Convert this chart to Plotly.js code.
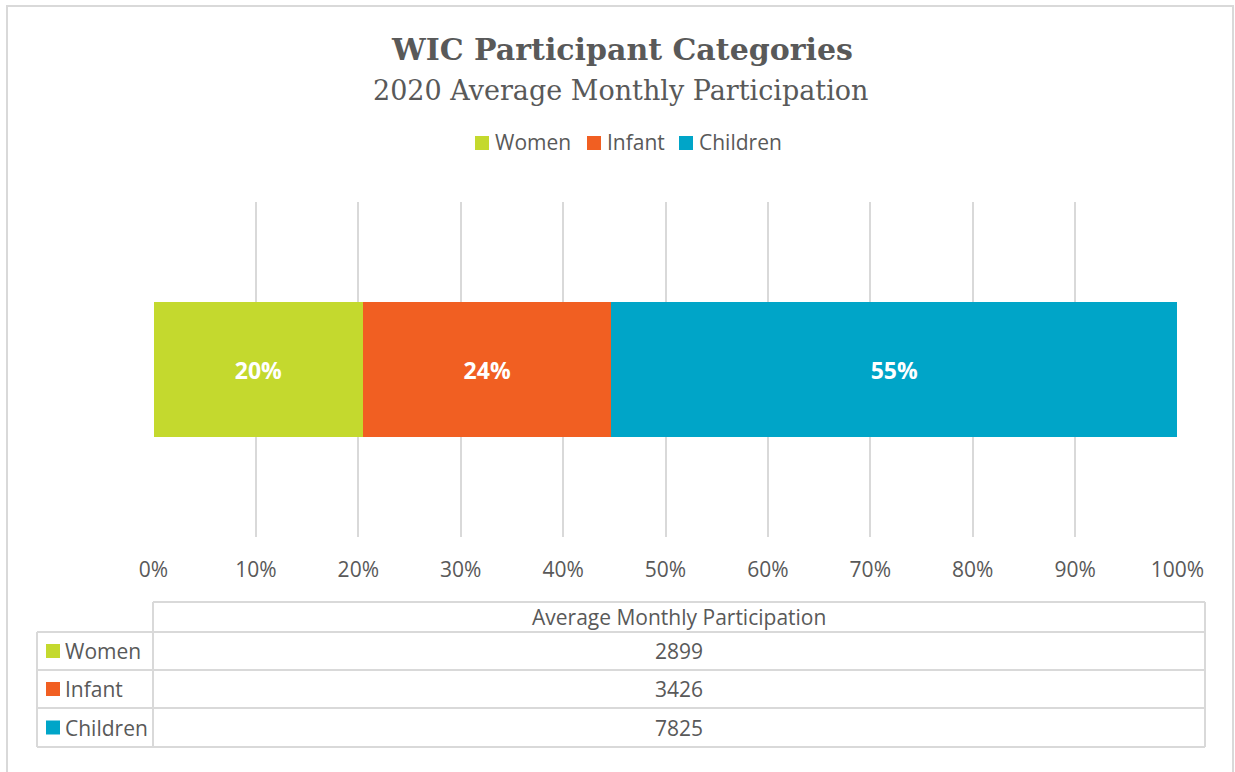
<!DOCTYPE html>
<html>
<head>
<meta charset="utf-8">
<script src="https://cdn.plot.ly/plotly-3.0.1.min.js"></script>
<style>
html,body{margin:0;padding:0;background:#fff;}
#chart{width:1235px;height:772px;}
</style>
</head>
<body>
<div id="chart"></div>
<script>
// ---- data ----
const categories = ['Women', 'Infant', 'Children'];
const participation = [2899, 3426, 7825];
const seriesColors = ['#C4D92E', '#F15F22', '#00A5C8'];
const barCategory = ['2020'];
const chartTitle = 'WIC Participant Categories';
const chartSubtitle = '2020 Average Monthly Participation';
const tableHeader = 'Average Monthly Participation';

// ---- layout helpers (pixel -> paper) ----
const W = 1235, H = 772;
const L = 153, R = 1178, T = 202, B = 537;
const px = x => (x - L) / (R - L);
const py = y => (B - y) / (B - T);

const total = participation.reduce((a, b) => a + b, 0);
const pct = participation.map(v => v / total * 100);

const textColor = '#595959';
const lineColor = '#D9D9D9';
const sans = 'Open Sans, Noto Sans, sans-serif';
const serif = 'DejaVu Serif, Liberation Serif, serif';
const fs = 21;

const traces = categories.map((c, i) => ({
  type: 'bar',
  orientation: 'h',
  name: c,
  y: barCategory,
  x: [pct[i]],
  width: 0.403,
  marker: {color: seriesColors[i], line: {width: 0}},
  text: [Math.round(pct[i]) + '%'],
  textposition: 'inside',
  insidetextanchor: 'middle',
  constraintext: 'none',
  textfont: {family: sans, size: 23, color: '#FFFFFF', weight: 700},
  hoverinfo: 'skip',
  showlegend: false
}));

const shapes = [];
const annotations = [];

// outer frame
shapes.push({type: 'rect', xref: 'paper', yref: 'paper', layer: 'below',
  x0: px(7), x1: px(1233), y0: py(6), y1: py(800),
  line: {color: lineColor, width: 2}, fillcolor: 'rgba(0,0,0,0)'});

// titles
annotations.push({xref: 'paper', yref: 'paper', x: px(622), y: py(49), xanchor: 'center', yanchor: 'middle',
  text: '<b>' + chartTitle + '</b>', showarrow: false, font: {family: serif, size: 30, color: textColor}});
annotations.push({xref: 'paper', yref: 'paper', x: px(621), y: py(90), xanchor: 'center', yanchor: 'middle',
  text: chartSubtitle, showarrow: false, font: {family: serif, size: 27, color: textColor}});

// legend (top)
const legendSwatchX = [475, 587, 679];
categories.forEach((c, i) => {
  const sx = legendSwatchX[i];
  shapes.push({type: 'rect', xref: 'paper', yref: 'paper',
    x0: px(sx), x1: px(sx + 14), y0: py(136), y1: py(150),
    line: {width: 0}, fillcolor: seriesColors[i]});
  annotations.push({xref: 'paper', yref: 'paper', x: px(sx + 18), y: py(142), xanchor: 'left', yanchor: 'middle',
    text: c, showarrow: false, font: {family: sans, size: fs, color: textColor}});
});

// data table
const tblL = 37, tblV = 153, tblR = 1205;
const rowY = [602, 632, 670, 708, 747];
const hl = (x0, x1, y) => shapes.push({type: 'line', xref: 'paper', yref: 'paper',
  x0: px(x0), x1: px(x1), y0: py(y), y1: py(y), line: {color: lineColor, width: 2}});
const vl = (x, y0, y1) => shapes.push({type: 'line', xref: 'paper', yref: 'paper',
  x0: px(x), x1: px(x), y0: py(y0), y1: py(y1), line: {color: lineColor, width: 2}});
hl(tblV, tblR, rowY[0]);
for (let k = 1; k < rowY.length; k++) hl(tblL, tblR, rowY[k]);
vl(tblL, rowY[1], rowY[4]);
vl(tblV, rowY[0], rowY[4]);
vl(tblR, rowY[0], rowY[4]);

const colCenter = (tblV + tblR) / 2;
annotations.push({xref: 'paper', yref: 'paper', x: px(colCenter), y: py((rowY[0] + rowY[1]) / 2), xanchor: 'center', yanchor: 'middle',
  text: tableHeader, showarrow: false, font: {family: sans, size: fs, color: textColor}});
categories.forEach((c, i) => {
  const yc = (rowY[i + 1] + rowY[i + 2]) / 2;
  shapes.push({type: 'rect', xref: 'paper', yref: 'paper',
    x0: px(46), x1: px(60), y0: py(yc - 7), y1: py(yc + 7),
    line: {width: 0}, fillcolor: seriesColors[i]});
  annotations.push({xref: 'paper', yref: 'paper', x: px(63), y: py(yc), xanchor: 'left', yanchor: 'middle',
    text: c, showarrow: false, font: {family: sans, size: fs, color: textColor}});
  annotations.push({xref: 'paper', yref: 'paper', x: px(colCenter), y: py(yc), xanchor: 'center', yanchor: 'middle',
    text: String(participation[i]), showarrow: false, font: {family: sans, size: fs, color: textColor}});
});

const layout = {
  width: W, height: H,
  margin: {l: L, r: W - R, t: T, b: H - B, pad: 0},
  paper_bgcolor: '#FFFFFF',
  plot_bgcolor: 'rgba(0,0,0,0)',
  barmode: 'stack',
  showlegend: false,
  font: {family: sans, color: textColor},
  xaxis: {
    range: [-0.05, 100.05], dtick: 10, tick0: 0, ticksuffix: '%',
    showgrid: true, gridcolor: lineColor, gridwidth: 2,
    zeroline: false, showline: false, ticks: '', ticklabelstandoff: 18,
    tickfont: {family: sans, size: fs, color: textColor}, fixedrange: true
  },
  yaxis: {type: 'category', range: [-0.5, 0.5], visible: false, showgrid: false, zeroline: false, fixedrange: true},
  shapes: shapes,
  annotations: annotations,
  hovermode: false
};

Plotly.newPlot('chart', traces, layout, {displayModeBar: false, staticPlot: true});
</script>
</body>
</html>
